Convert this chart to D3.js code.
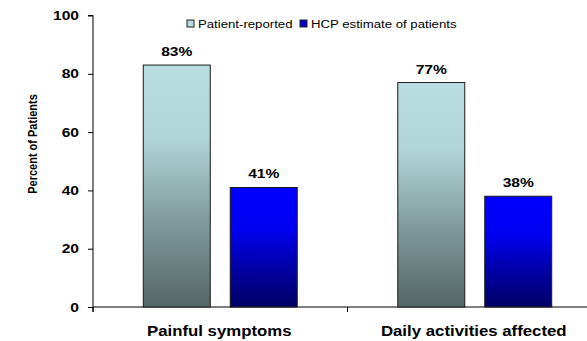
<!DOCTYPE html>
<html>
<head>
<meta charset="utf-8">
<script src="https://cdn.jsdelivr.net/npm/d3@7"></script>
<style>
  body { margin: 0; background: #fff; }
  text { font-family: Arial, "Liberation Sans", sans-serif; fill: #000; }
</style>
</head>
<body>
<div id="svganchor"></div>
<script>
let width = 587;
let height = 341;
let margin = { top: 15.5, right: -15, bottom: 34, left: 93 };

// data
let categories = ["Painful symptoms", "Daily activities affected"];
let series = ["Patient-reported", "HCP estimate of patients"];
let patientValues = [83, 77];
let hcpValues = [41, 38];
let yTicks = [0, 20, 40, 60, 80, 100];

let rows = categories.map(function (c, i) {
  return { category: c, values: [patientValues[i], hcpValues[i]] };
});

let stretch = "scale(1.2,1)"; // text in the source is drawn a bit wide

let svg = d3.select("#svganchor").append("svg").attr("width", width).attr("height", height);

let defs = svg.append("defs");
let grads = [
  { id: "gradPatient", stops: [["0%", "#b9dde0"], ["30%", "#b2d5d8"], ["65%", "#7f9a9b"], ["100%", "#546666"]] },
  { id: "gradHcp", stops: [["0%", "#0000ff"], ["35%", "#0000f0"], ["70%", "#0000a0"], ["100%", "#000066"]] }
];
grads.forEach(function (g) {
  let lg = defs.append("linearGradient").attr("id", g.id).attr("x1", 0).attr("y1", 0).attr("x2", 0).attr("y2", 1);
  g.stops.forEach(function (s) {
    lg.append("stop").attr("offset", s[0]).attr("stop-color", s[1]);
  });
});
let fills = ["url(#gradPatient)", "url(#gradHcp)"];
let swatches = ["#b9dde0", "#0000cc"];

let xScale = d3.scaleBand().domain(categories).range([margin.left, width - margin.right]);
let xInner = d3.scaleBand().domain(series).range([0, xScale.bandwidth()]).paddingInner(0.23).paddingOuter(0.578);
let yScale = d3.scaleLinear().domain([0, 100]).range([height - margin.bottom, margin.top]);

// y axis
let yAxis = svg.append("g")
  .attr("transform", "translate(" + margin.left + ",0)")
  .call(d3.axisLeft(yScale).tickValues(yTicks).tickSize(5).tickPadding(9));
yAxis.select(".domain").attr("stroke", "#000").attr("d", "M-5," + yScale(100) + "H0V" + (yScale(0) + 5));
yAxis.selectAll(".tick line").attr("stroke", "#000");
yAxis.selectAll(".tick text")
  .attr("font-size", 13).attr("font-weight", "bold")
  .attr("font-family", "Arial, 'Liberation Sans', sans-serif")
  .attr("transform", "translate(-14,0) " + stretch + " translate(14,0)");

// x axis
let xAxis = svg.append("g").attr("transform", "translate(0," + yScale(0) + ")");
xAxis.append("line").attr("x1", margin.left).attr("x2", width).attr("stroke", "#000");
xAxis.selectAll(".sep").data([xScale(categories[1])]).enter().append("line")
  .attr("x1", function (d) { return d; }).attr("x2", function (d) { return d; })
  .attr("y1", 0).attr("y2", 5).attr("stroke", "#000");
xAxis.append("line").attr("x1", margin.left).attr("x2", margin.left).attr("y1", 0).attr("y2", 5).attr("stroke", "#000");

xAxis.selectAll(".cat").data(categories).enter().append("text")
  .attr("text-anchor", "middle").attr("font-size", 14).attr("font-weight", "bold")
  .attr("transform", function (d) {
    return "translate(" + (xScale(d) + xScale.bandwidth() / 2 - 1) + ",29) " + stretch;
  })
  .text(function (d) { return d; });

// y label
svg.append("text")
  .attr("transform", "translate(37,144) rotate(-90) scale(1,1.15)")
  .attr("text-anchor", "middle").attr("font-size", 11).attr("font-weight", "bold")
  .text("Percent of Patients");

// bars
let groups = svg.selectAll(".group").data(rows).enter().append("g")
  .attr("class", "group")
  .attr("transform", function (d) { return "translate(" + xScale(d.category) + ",0)"; });

groups.selectAll("rect").data(function (d) { return d.values; }).enter().append("rect")
  .attr("x", function (d, i) { return xInner(series[i]); })
  .attr("y", function (d) { return yScale(d); })
  .attr("width", xInner.bandwidth())
  .attr("height", function (d) { return yScale(0) - yScale(d); })
  .attr("fill", function (d, i) { return fills[i]; })
  .attr("stroke", "#1a1a1a").attr("stroke-width", 1);

groups.selectAll(".val").data(function (d) { return d.values; }).enter().append("text")
  .attr("text-anchor", "middle").attr("font-size", 13).attr("font-weight", "bold")
  .attr("transform", function (d, i) {
    return "translate(" + (xInner(series[i]) + xInner.bandwidth() / 2) + "," + (yScale(d) - 9) + ") " + stretch;
  })
  .text(function (d) { return d + "%"; });

// legend
let legendX = [187, 300];
let legend = svg.selectAll(".legend").data(series).enter().append("g")
  .attr("transform", function (d, i) { return "translate(" + legendX[i] + ",20)"; });
legend.append("rect").attr("width", 7).attr("height", 7)
  .attr("fill", function (d, i) { return swatches[i]; })
  .attr("stroke", "#222").attr("stroke-width", 1);
legend.append("text")
  .attr("transform", "translate(11,7.5) " + stretch)
  .attr("font-size", 11)
  .text(function (d) { return d; });
</script>
</body>
</html>
